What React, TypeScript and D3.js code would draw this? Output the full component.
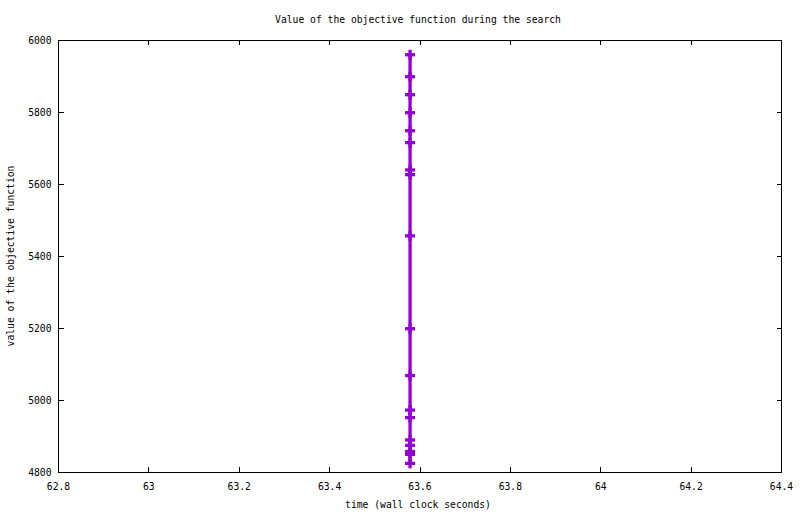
import { useEffect, useRef } from 'react'
import * as d3 from 'd3'

interface Point {
  time: number
  value: number
}

// objective values logged during the search (all at the same wall clock time)
const times: number[] = [
  63.578, 63.578, 63.578, 63.578, 63.578, 63.578, 63.578, 63.578, 63.578,
  63.578, 63.578, 63.578, 63.578, 63.578, 63.578, 63.578, 63.578, 63.578,
]
const values: number[] = [
  5959, 5898, 5848, 5798, 5748, 5715, 5639, 5626, 5456, 5198, 5068, 4972,
  4951, 4889, 4874, 4857, 4849, 4824,
]

const xTicks: number[] = [62.8, 63, 63.2, 63.4, 63.6, 63.8, 64, 64.2, 64.4]
const yTicks: number[] = [4800, 5000, 5200, 5400, 5600, 5800, 6000]

const points: Point[] = values.map((v, i) => ({ time: times[i], value: v }))

const W = 800
const H = 514
const margin = { top: 40, right: 18.5, bottom: 42, left: 58.5 }
const font = '"DejaVu Sans Mono", monospace'
const color = '#9400d3'

export default function App() {
  const svgRef = useRef<SVGSVGElement>(null)

  useEffect(() => {
    if (!svgRef.current) return
    const svg = d3.select(svgRef.current)
    svg.selectAll('*').remove()

    const innerW = W - margin.left - margin.right
    const innerH = H - margin.top - margin.bottom

    const x = d3.scaleLinear().domain([62.8, 64.4]).range([0, innerW])
    const y = d3.scaleLinear().domain([4800, 6000]).range([innerH, 0])

    const g = svg
      .append('g')
      .attr('transform', `translate(${margin.left},${margin.top})`)

    const tick = 5

    // border
    g.append('rect')
      .attr('x', 0)
      .attr('y', 0)
      .attr('width', innerW)
      .attr('height', innerH)
      .attr('fill', 'none')
      .attr('stroke', '#000')
      .attr('stroke-width', 1)
      .attr('shape-rendering', 'crispEdges')

    // x ticks (bottom + mirrored top)
    const xt = g.append('g').attr('shape-rendering', 'crispEdges')
    xTicks.forEach((t) => {
      xt.append('line')
        .attr('x1', x(t)).attr('x2', x(t))
        .attr('y1', innerH).attr('y2', innerH - tick)
        .attr('stroke', '#000')
      xt.append('line')
        .attr('x1', x(t)).attr('x2', x(t))
        .attr('y1', 0).attr('y2', tick)
        .attr('stroke', '#000')
      g.append('text')
        .attr('x', x(t))
        .attr('y', innerH + 18)
        .attr('text-anchor', 'middle')
        .style('font-family', font)
        .style('font-size', '9.7px')
        .text(String(t))
    })

    // y ticks (left + mirrored right)
    const yt = g.append('g').attr('shape-rendering', 'crispEdges')
    yTicks.forEach((t) => {
      yt.append('line')
        .attr('x1', 0).attr('x2', tick)
        .attr('y1', y(t)).attr('y2', y(t))
        .attr('stroke', '#000')
      yt.append('line')
        .attr('x1', innerW).attr('x2', innerW - tick)
        .attr('y1', y(t)).attr('y2', y(t))
        .attr('stroke', '#000')
      g.append('text')
        .attr('x', -7)
        .attr('y', y(t) + 4)
        .attr('text-anchor', 'end')
        .style('font-family', font)
        .style('font-size', '9.7px')
        .text(String(t))
    })

    // line
    const line = d3
      .line<Point>()
      .x((d) => x(d.time))
      .y((d) => y(d.value))

    g.append('path')
      .datum(points)
      .attr('fill', 'none')
      .attr('stroke', color)
      .attr('stroke-width', 3.3)
      .attr('d', line)

    // "+" markers
    const s = 5
    const marks = g.append('g').attr('stroke', color).attr('stroke-width', 3.3)
    points.forEach((d) => {
      const cx = x(d.time)
      const cy = y(d.value)
      marks.append('line')
        .attr('x1', cx - s).attr('x2', cx + s)
        .attr('y1', cy).attr('y2', cy)
      marks.append('line')
        .attr('x1', cx).attr('x2', cx)
        .attr('y1', cy - s).attr('y2', cy + s)
    })

    // title and axis labels
    svg.append('text')
      .attr('x', 418)
      .attr('y', 23)
      .attr('text-anchor', 'middle')
      .style('font-family', font)
      .style('font-size', '9.7px')
      .text('Value of the objective function during the search')

    svg.append('text')
      .attr('x', 418)
      .attr('y', 508)
      .attr('text-anchor', 'middle')
      .style('font-family', font)
      .style('font-size', '9.7px')
      .text('time (wall clock seconds)')

    svg.append('text')
      .attr('transform', `translate(14,${margin.top + innerH / 2}) rotate(-90)`)
      .attr('text-anchor', 'middle')
      .style('font-family', font)
      .style('font-size', '9.7px')
      .text('value of the objective function')
  }, [])

  return (
    <div style={{ position: 'absolute', left: 0, top: 0, background: '#fff' }}>
      <svg ref={svgRef} width={W} height={H} style={{ display: 'block' }} />
    </div>
  )
}
